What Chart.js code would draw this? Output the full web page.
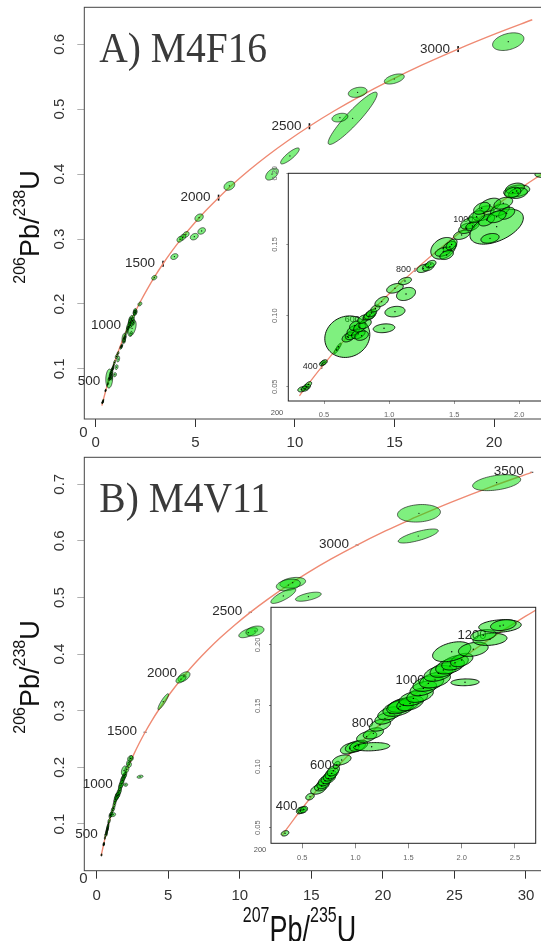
<!DOCTYPE html>
<html><head><meta charset="utf-8">
<script src="https://cdn.jsdelivr.net/npm/chart.js@4/dist/chart.umd.min.js"></script>
<style>
html,body{margin:0;padding:0;background:#fff;overflow:hidden;width:541px;height:941px;position:relative}
canvas{position:absolute}
</style></head><body>
<canvas id="mainA" width="600" height="450" style="left:0px;top:0px"></canvas>
<canvas id="insetA" width="320" height="270" style="left:260px;top:160px"></canvas>
<canvas id="mainB" width="600" height="491" style="left:0px;top:450px"></canvas>
<canvas id="insetB" width="300" height="280" style="left:250px;top:590px"></canvas>
<script>
// ---- Concordia curve (age in Ma, 207Pb/235U, 206Pb/238U) ----
const concAge = [200,250,275,300,350,400,500,600,700,800,900,1000,1100,1200,1300,1400,1500,1600,1700,1800,1900,2000,2100,2200,2300,2400,2500,2600,2700,2800,2900,3000,3100,3180,3200,3300,3400,3500,3600];
const concX = [0.2177,0.2792,0.3111,0.3437,0.4116,0.4828,0.6363,0.8056,0.9925,1.1987,1.4263,1.6774,1.9545,2.2603,2.5977,2.9701,3.3810,3.8344,4.3348,4.8869,5.4962,6.1685,6.9104,7.7292,8.6326,9.6296,10.7297,11.9437,13.2834,14.7617,16.3929,18.1926,20.1795,21.9157,22.3716,24.7903,27.4597,30.4050,33.6556];
const concY = [0.03151,0.03954,0.04358,0.04764,0.05579,0.06402,0.08065,0.09754,0.11470,0.13213,0.14983,0.16781,0.18606,0.20459,0.22342,0.24256,0.26199,0.28172,0.30175,0.32210,0.34277,0.36377,0.38509,0.40674,0.42873,0.45107,0.47375,0.49679,0.52019,0.54396,0.56810,0.59261,0.61751,0.63771,0.64280,0.66848,0.69456,0.72106,0.74796];

// ---- Age labels on the concordia ----
const ageLabA = [500,1000,1500,2000,2500,3000];
const ageLabB = [500,1000,1500,2000,2500,3000,3500];
const ageLabInsetA = [400,600,800,1000];
const ageLabInsetB = [400,600,800,1000,1200];
const ageLabSmall = [200];

// ---- Tick values ----
const xTicksA = [0,5,10,15,20];
const yTicksA = [0.1,0.2,0.3,0.4,0.5,0.6];
const xTicksB = [0,5,10,15,20,25,30];
const yTicksB = [0.1,0.2,0.3,0.4,0.5,0.6,0.7];
const xTicksInsetA = [0.5,1.0,1.5,2.0];
const yTicksInsetA = [0.05,0.10,0.15,0.20];
const xTicksInsetB = [0.5,1.0,1.5,2.0,2.5];
const yTicksInsetB = [0.05,0.10,0.15,0.20];

// ---- Error ellipses: [207Pb/235U, 206Pb/238U, sigma x, sigma y, rho] ----
const ellMainA = [
[20.71,0.604,0.786,0.0136,0.35],
[14.99,0.5465,0.50,0.0078,0.5],
[13.15,0.526,0.47,0.0078,0.3],
[12.90,0.486,1.23,0.0403,0.93],
[12.26,0.487,0.40,0.0067,0.3],
[9.75,0.428,0.47,0.0123,0.85],
[8.85,0.400,0.32,0.0092,0.5],
[6.71,0.382,0.27,0.0069,0.3],
[5.19,0.333,0.21,0.0057,0.3],
[5.32,0.3125,0.19,0.0050,0.3],
[4.95,0.3037,0.20,0.0050,0.3],
[4.53,0.307,0.16,0.0045,0.3],
[4.37,0.3027,0.15,0.0045,0.3],
[4.23,0.2997,0.15,0.0045,0.3],
[3.95,0.273,0.18,0.0045,0.3],
[2.94,0.2405,0.13,0.0035,0.3],
[2.22,0.200,0.10,0.0030,0.3]
];
const ellInsetA = [
[0.329,0.0482,0.030,0.0018,0.3],
[0.354,0.0487,0.030,0.0018,0.3],
[0.367,0.0500,0.030,0.0018,0.3],
[0.380,0.0516,0.025,0.0020,0.5],
[0.490,0.0665,0.025,0.0018,0.4],
[0.500,0.0672,0.025,0.0018,0.4],
[0.597,0.0758,0.020,0.0025,0.8],
[0.612,0.0781,0.020,0.0025,0.8],
[0.679,0.0852,0.173,0.0146,0.1],
[0.687,0.0848,0.048,0.0033,0.4],
[0.712,0.0864,0.048,0.0033,0.4],
[0.725,0.0895,0.048,0.0035,0.4],
[0.738,0.0930,0.042,0.0032,0.4],
[0.764,0.0872,0.052,0.0035,0.4],
[0.776,0.0919,0.048,0.0035,0.4],
[0.789,0.0859,0.052,0.0033,0.3],
[0.815,0.0942,0.048,0.0033,0.4],
[0.800,0.0975,0.042,0.0030,0.4],
[0.845,0.0995,0.045,0.0027,0.4],
[0.853,0.1004,0.045,0.0030,0.4],
[0.865,0.1018,0.040,0.0027,0.4],
[0.895,0.1050,0.035,0.0024,0.4],
[0.943,0.1098,0.052,0.0036,0.5],
[1.045,0.1028,0.077,0.0037,0.2],
[0.961,0.0911,0.083,0.0031,0.2],
[1.045,0.1192,0.064,0.0034,0.4],
[1.130,0.1152,0.073,0.0046,0.3],
[1.122,0.1243,0.050,0.0026,0.4],
[1.263,0.1332,0.050,0.0029,0.4],
[1.301,0.1343,0.045,0.0029,0.4],
[1.320,0.1362,0.040,0.0026,0.4],
[1.416,0.1473,0.096,0.0076,0.3],
[1.467,0.1484,0.052,0.0037,0.4],
[1.416,0.1449,0.062,0.0032,0.4],
[1.480,0.1500,0.042,0.0037,0.5],
[1.442,0.1426,0.052,0.0032,0.4],
[1.557,0.1567,0.062,0.0032,0.4],
[1.596,0.1614,0.062,0.0037,0.4],
[1.621,0.1649,0.072,0.0042,0.4],
[1.640,0.1630,0.052,0.0032,0.4],
[1.826,0.1625,0.205,0.0123,0.5],
[1.775,0.1543,0.070,0.0034,0.3],
[1.724,0.1719,0.082,0.0052,0.4],
[1.775,0.1778,0.082,0.0047,0.4],
[1.852,0.1743,0.072,0.0042,0.4],
[1.877,0.1790,0.072,0.0042,0.4],
[1.749,0.1672,0.062,0.0042,0.4],
[1.672,0.1695,0.062,0.0042,0.4],
[1.903,0.1719,0.062,0.0042,0.4],
[1.711,0.1754,0.062,0.0042,0.4],
[1.826,0.1695,0.072,0.0042,0.4],
[1.980,0.1876,0.100,0.0042,0.3],
[1.967,0.1894,0.072,0.0037,0.3],
[1.990,0.1860,0.072,0.0037,0.3],
[1.950,0.1865,0.062,0.0037,0.3]
];
const ellMainB = [
[27.95,0.7028,1.68,0.0141,0.4],
[22.52,0.6487,1.50,0.0155,0.15],
[22.47,0.6086,1.40,0.0124,0.75],
[13.70,0.5261,0.90,0.0094,0.3],
[13.39,0.5221,0.84,0.0103,0.3],
[13.04,0.5027,0.87,0.0132,0.8],
[14.79,0.5014,0.90,0.0080,0.6],
[10.59,0.4378,0.66,0.0088,0.6],
[11.06,0.4408,0.63,0.0088,0.3],
[6.10,0.3601,0.42,0.0088,0.5],
[5.89,0.3560,0.35,0.0070,0.5],
[4.65,0.3160,0.37,0.0141,0.9],
[3.03,0.1835,0.21,0.0027,0.3]
];
const ellInsetB = [
[0.338,0.0453,0.036,0.0022,0.3],
[0.480,0.0640,0.035,0.0027,0.3],
[0.498,0.0644,0.040,0.0027,0.3],
[0.515,0.0648,0.035,0.0027,0.3],
[0.573,0.0754,0.040,0.0027,0.3],
[0.651,0.0814,0.072,0.0040,0.4],
[0.683,0.0841,0.068,0.0040,0.4],
[0.700,0.0862,0.062,0.0043,0.4],
[0.714,0.0885,0.062,0.0043,0.4],
[0.745,0.0904,0.068,0.0043,0.4],
[0.760,0.0925,0.062,0.0043,0.4],
[0.777,0.0945,0.062,0.0046,0.4],
[0.792,0.0967,0.058,0.0043,0.4],
[0.824,0.1014,0.032,0.0030,0.4],
[0.871,0.1055,0.088,0.0042,0.4],
[0.949,0.1151,0.090,0.0046,0.4],
[1.000,0.1165,0.095,0.0048,0.4],
[1.030,0.1172,0.085,0.0046,0.4],
[1.153,0.1164,0.170,0.0034,0.2],
[1.106,0.1246,0.095,0.0046,0.4],
[1.169,0.1274,0.095,0.0046,0.4],
[1.231,0.1342,0.100,0.0050,0.4],
[1.278,0.1397,0.095,0.0048,0.4],
[1.325,0.1438,0.115,0.0054,0.4],
[1.404,0.1479,0.145,0.0065,0.4],
[1.451,0.1507,0.145,0.0060,0.4],
[1.420,0.1495,0.125,0.0060,0.4],
[1.514,0.1520,0.125,0.0060,0.4],
[1.545,0.1561,0.135,0.0060,0.4],
[1.608,0.1588,0.125,0.0060,0.4],
[1.639,0.1643,0.125,0.0060,0.4],
[1.686,0.1684,0.145,0.0065,0.4],
[1.749,0.1712,0.145,0.0065,0.4],
[1.780,0.1766,0.135,0.0065,0.4],
[1.827,0.1794,0.125,0.0060,0.4],
[1.890,0.1827,0.135,0.0065,0.4],
[1.937,0.1854,0.125,0.0060,0.4],
[2.000,0.1876,0.105,0.0055,0.4],
[1.906,0.1944,0.180,0.0082,0.4],
[2.109,0.1964,0.140,0.0058,0.3],
[2.031,0.1693,0.133,0.0028,0.1],
[2.266,0.2046,0.160,0.0050,0.2],
[2.203,0.2080,0.120,0.0046,0.3],
[2.360,0.2155,0.200,0.0052,0.2],
[2.391,0.2163,0.120,0.0045,0.3]
];

// ---------------- rendering ----------------
const FONT = '"Liberation Sans", Arial, Helvetica, sans-serif';
const SERIF = '"Liberation Serif", "Times New Roman", serif';

function toPts(list){ return list.map(e => ({x:e[0], y:e[1], sx:e[2], sy:e[3], r:e[4]})); }
function concPts(a0, a1){
  const p = [];
  concAge.forEach((a,i) => { if (a >= a0 && a <= a1) p.push({x:concX[i], y:concY[i]}); });
  return p;
}
function isoText(ctx, parts, big, sup, raise){
  let w = 0;
  parts.forEach(p => { ctx.font = (p[1]?sup:big) + 'px ' + FONT; w += ctx.measureText(p[0]).width; });
  let x = -w/2;
  parts.forEach(p => { ctx.font = (p[1]?sup:big) + 'px ' + FONT; ctx.fillText(p[0], x, p[1] ? -raise : 0); x += ctx.measureText(p[0]).width; });
}

function makePlugin(c){
  return {
    id: 'conc' + c.id,
    beforeDraw(chart){
      if (!c.inset) return;
      const ctx = chart.ctx, a = chart.chartArea;
      ctx.save(); ctx.fillStyle = '#fff';
      ctx.fillRect(a.left, a.top, a.right - a.left, a.bottom - a.top);
      ctx.restore();
    },
    beforeDatasetsDraw(chart){
      const ctx = chart.ctx, xs = chart.scales.x, ys = chart.scales.y, a = chart.chartArea;
      ctx.save();
      const drawAge = (age, size, col, dx, dy, mark) => {
        const i = concAge.indexOf(age);
        const px = xs.getPixelForValue(concX[i]), py = ys.getPixelForValue(concY[i]);
        const inside = px >= a.left && px <= a.right && py >= a.top && py <= a.bottom;
        if (inside && mark === 'v') { ctx.fillStyle = '#111'; ctx.fillRect(px-0.8, py-3, 1.6, 6); }
        if (inside && mark === 'v2') { ctx.fillStyle = '#222'; ctx.fillRect(px-0.5, py-2, 1, 4); }
        if (inside && mark === 'h') { ctx.fillStyle = '#555'; ctx.fillRect(px-1.5, py-0.6, 3, 1.2); }
        ctx.fillStyle = col; ctx.font = size + 'px ' + FONT;
        ctx.textAlign = 'right'; ctx.textBaseline = 'middle';
        ctx.fillText(String(age), px + dx, py + dy);
      };
      c.ages.forEach(age => drawAge(age, c.ageFont, '#2a2a2a', c.ageDx, c.ageDy, c.ageMark));
      if (c.inset) ageLabSmall.forEach(age => drawAge(age, 7.5, '#555', c.smallDx, 0, null));
      ctx.restore();
    },
    afterDatasetDraw(chart, args){
      if (args.index !== 0) return;
      const ctx = chart.ctx, xs = chart.scales.x, ys = chart.scales.y, a = chart.chartArea;
      ctx.save();
      ctx.beginPath(); ctx.rect(a.left, a.top, a.right - a.left, a.bottom - a.top); ctx.clip();
      ctx.fillStyle = 'rgba(0,225,0,0.5)';
      ctx.strokeStyle = '#000';
      ctx.lineWidth = c.ellLW;
      chart.data.datasets[1].data.forEach(e => {
        const q = Math.sqrt(1 - e.r*e.r);
        ctx.beginPath();
        for (let k = 0; k <= 72; k++){
          const t = k/72*2*Math.PI, cs = Math.cos(t), sn = Math.sin(t);
          const px = xs.getPixelForValue(e.x + e.sx*cs);
          const py = ys.getPixelForValue(e.y + e.sy*(e.r*cs + q*sn));
          if (k) ctx.lineTo(px, py); else ctx.moveTo(px, py);
        }
        ctx.closePath(); ctx.fill(); ctx.stroke();
      });
      ctx.restore();
    },
    afterDraw(chart){
      const ctx = chart.ctx, ys = chart.scales.y, a = chart.chartArea;
      ctx.save();
      ctx.strokeStyle = c.frameCol; ctx.lineWidth = 1;
      ctx.strokeRect(a.left, a.top, a.right - a.left, a.bottom - a.top);
      ctx.fillStyle = c.tickCol; ctx.font = c.yFont + 'px ' + FONT;
      ctx.textAlign = 'center'; ctx.textBaseline = 'middle';
      ys.ticks.forEach(t => {
        const py = ys.getPixelForValue(t.value);
        ctx.save(); ctx.translate(c.yLabX, py); ctx.rotate(-Math.PI/2);
        ctx.fillText(c.yFmt(t.value), 0, 0); ctx.restore();
      });
      if (c.zero) {
        ctx.fillText('0', a.left - 1, ys.getPixelForValue(0) - 1.5);
      }
      if (c.title) {
        ctx.fillStyle = '#3a3a3a'; ctx.textAlign = 'left'; ctx.textBaseline = 'alphabetic';
        ctx.font = '42px ' + SERIF;
        ctx.save(); ctx.translate(a.left + 15, 62); ctx.scale(0.94, 1);
        ctx.fillText(c.title, 0, 0); ctx.restore();
        ctx.fillStyle = '#111';
        ctx.save(); ctx.translate(39.3, 227); ctx.rotate(-Math.PI/2);
        ctx.textAlign = 'left';
        isoText(ctx, [['206',1],['Pb',0],['/',0],['238',1],['U',0]], 27, 16, 14.3);
        ctx.restore();
      }
      if (c.xTitle) {
        ctx.fillStyle = '#111'; ctx.textAlign = 'left'; ctx.textBaseline = 'alphabetic';
        ctx.save(); ctx.translate(299.5, 492); ctx.scale(1, 1.4);
        isoText(ctx, [['207',1],['Pb',0],['/',0],['235',1],['U',0]], 27, 16, 14.3);
        ctx.restore();
      }
      ctx.restore();
    }
  };
}

function build(id, c){
  new Chart(document.getElementById(id), {
    type: 'scatter',
    data: { datasets: [
      { data: concPts(275, c.ageMax), showLine: true, borderColor: '#ef8a73', borderWidth: c.lw,
        pointRadius: 0, cubicInterpolationMode: 'monotone', order: 2 },
      { data: toPts(c.ell), pointRadius: c.dot, pointBackgroundColor: '#000', pointBorderWidth: 0, order: 1 }
    ]},
    options: {
      responsive: false, animation: false, devicePixelRatio: 1, events: [],
      layout: { autoPadding: false, padding: { top: c.padT, right: c.padR, left: 0, bottom: 0 } },
      plugins: { legend: { display: false }, tooltip: { enabled: false } },
      scales: {
        x: { type: 'linear', position: 'bottom', min: c.xmin, max: c.xmax,
          afterBuildTicks: s => { s.ticks = c.xTicks.map(v => ({ value: v })); },
          afterFit: s => { s.height = c.xH; },
          ticks: { font: { family: FONT, size: c.xFont }, color: c.tickCol, padding: c.xPad,
                   maxRotation: 0, minRotation: 0, autoSkip: false, callback: v => c.xFmt(v) },
          grid: { display: true, drawOnChartArea: false, drawTicks: true, tickLength: c.xTL, color: c.xTickCol, tickWidth: 1 },
          border: { display: false } },
        y: { type: 'linear', position: 'left', min: c.ymin, max: c.ymax,
          afterBuildTicks: s => { s.ticks = c.yTicks.map(v => ({ value: v })); },
          afterFit: s => { s.width = c.yW; },
          ticks: { display: false },
          grid: { display: true, drawOnChartArea: false, drawTicks: true, tickLength: c.yTL, color: c.yTickCol, tickWidth: 1 },
          border: { display: false } }
      }
    },
    plugins: [makePlugin(c)]
  });
}

build('mainA', { id:'A', ell: ellMainA.concat(ellInsetA), ageMax: 3180, lw: 1.4, dot: 0.6,
  padT: 7.3, padR: 20, xmin: -0.572, xmax: 24.312, ymin: 0.0229, ymax: 0.6569,
  xTicks: xTicksA, yTicks: yTicksA, xH: 31, yW: 84.3, xTL: 8, xPad: 7, xFont: 15, yTL: 7,
  xFmt: v => String(v), yFmt: v => v.toFixed(1), tickCol: '#333', xTickCol: '#333', yTickCol: '#b0b0b0',
  yLabX: 60, yFont: 15, zero: true, ages: ageLabA, ageDx: -8, ageDy: 0, ageFont: 13.5, ageMark: 'v',
  title: 'A) M4F16', xTitle: false, inset: false, ellLW: 0.6, frameCol: '#444' });

build('insetA', { id:'IA', ell: ellInsetA.concat(ellMainA), ageMax: 1500, lw: 1.3, dot: 0.7,
  padT: 13.3, padR: 10, xmin: 0.2258, xmax: 2.3894, ymin: 0.04, ymax: 0.20,
  xTicks: xTicksInsetA, yTicks: yTicksInsetA, xH: 29, yW: 28.3, xTL: 3, xPad: 6.5, xFont: 7.5, yTL: 2,
  xFmt: v => v.toFixed(1), yFmt: v => v.toFixed(2), tickCol: '#666', xTickCol: '#999', yTickCol: '#999',
  yLabX: 14.5, yFont: 7.5, zero: false, ages: ageLabInsetA, ageDx: -4, ageDy: 0, ageFont: 9, ageMark: 'v2',
  smallDx: -4, title: null, xTitle: false, inset: true, ellLW: 0.9, frameCol: '#222' });

build('mainB', { id:'B', ell: ellMainB.concat(ellInsetB), ageMax: 3500, lw: 1.4, dot: 0.6,
  padT: 7.3, padR: 20, xmin: -0.8665, xmax: 33.774, ymin: 0.0175, ymax: 0.7476,
  xTicks: xTicksB, yTicks: yTicksB, xH: 70.3, yW: 84.3, xTL: 8, xPad: 8.3, xFont: 15, yTL: 7,
  xFmt: v => String(v), yFmt: v => v.toFixed(1), tickCol: '#333', xTickCol: '#333', yTickCol: '#b0b0b0',
  yLabX: 60, yFont: 15, zero: true, ages: ageLabB, ageDx: -8, ageDy: -1, ageFont: 13.5, ageMark: 'h',
  title: 'B) M4V11', xTitle: true, inset: false, ellLW: 0.6, frameCol: '#444' });

build('insetB', { id:'IB', ell: ellInsetB.concat(ellMainB), ageMax: 1500, lw: 1.3, dot: 0.7,
  padT: 17.3, padR: 14.3, xmin: 0.206, xmax: 2.696, ymin: 0.0371, ymax: 0.2309,
  xTicks: xTicksInsetB, yTicks: yTicksInsetB, xH: 26.7, yW: 21, xTL: 5, xPad: 5, xFont: 7.5, yTL: 2,
  xFmt: v => v.toFixed(1), yFmt: v => v.toFixed(2), tickCol: '#666', xTickCol: '#888', yTickCol: '#888',
  yLabX: 7.7, yFont: 7.5, zero: false, ages: ageLabInsetB, ageDx: -3, ageDy: -4, ageFont: 13, ageMark: null,
  smallDx: -6, title: null, xTitle: false, inset: true, ellLW: 0.9, frameCol: '#222' });
</script>
</body></html>
